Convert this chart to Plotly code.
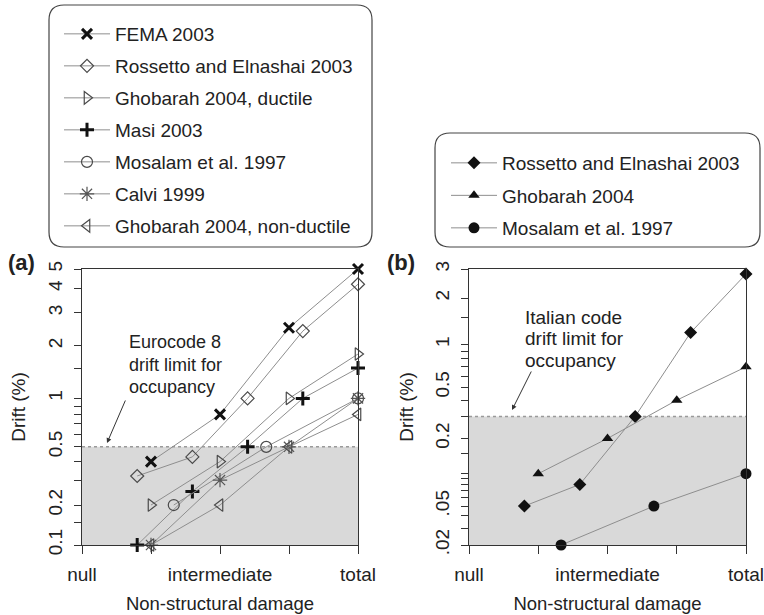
import plotly.graph_objects as go

# ---- data -----------------------------------------------------------------
stage_ticks = [0, 1, 2, 3, 4]
stage_labels = ["null", "", "intermediate", "", "total"]

# (a) drift-damage relations from the literature
fema_x = [1, 2, 3, 4]
fema_drift = [0.4, 0.8, 2.5, 5.0]
rossetto_a_x = [0.8, 1.6, 2.4, 3.2, 4]
rossetto_a_drift = [0.32, 0.43, 1.0, 2.4, 4.2]
ghobarah_duct_x = [1, 2, 3, 4]
ghobarah_duct_drift = [0.2, 0.4, 1.0, 1.8]
masi_x = [0.8, 1.6, 2.4, 3.2, 4]
masi_drift = [0.1, 0.25, 0.5, 1.0, 1.5]
mosalam_a_x = [1.33, 2.67, 4]
mosalam_a_drift = [0.2, 0.5, 1.0]
calvi_x = [1, 2, 3, 4]
calvi_drift = [0.1, 0.3, 0.5, 1.0]
ghobarah_nonduct_x = [1, 2, 3, 4]
ghobarah_nonduct_drift = [0.1, 0.2, 0.5, 0.8]

# (b)
rossetto_b_x = [0.8, 1.6, 2.4, 3.2, 4]
rossetto_b_drift = [0.05, 0.08, 0.3, 1.2, 2.8]
ghobarah_b_x = [1, 2, 3, 4]
ghobarah_b_drift = [0.1, 0.2, 0.4, 0.7]
mosalam_b_x = [1.33, 2.67, 4]
mosalam_b_drift = [0.02, 0.05, 0.1]

eurocode_limit = 0.5
italian_limit = 0.3

ticks_a = [0.1, 0.15, 0.2, 0.3, 0.4, 0.5, 0.6, 0.7, 0.8, 0.9, 1, 1.5, 2, 3, 4, 5]
labels_a = {0.1: "0.1", 0.2: "0.2", 0.5: "0.5", 1: "1", 2: "2", 3: "3", 4: "4", 5: "5"}
ticks_b = [0.02, 0.03, 0.04, 0.05, 0.06, 0.07, 0.08, 0.09, 0.1, 0.15, 0.2, 0.3,
           0.4, 0.5, 0.6, 0.7, 0.8, 0.9, 1, 1.5, 2, 3]
labels_b = {0.02: ".02", 0.05: ".05", 0.2: "0.2", 0.5: "0.5", 1: "1", 2: "2", 3: "3"}

# ---- helpers --------------------------------------------------------------
W, H = 764, 615
POW = 0.12  # power-compressed drift scale


def sc(values):
    return [v ** POW for v in values]


def px(x):
    return x / W


def py(y):
    return 1 - y / H


def rounded_box(x0, y0, x1, y1, r):
    pts = [
        f"M {px(x0 + r)} {py(y0)}",
        f"L {px(x1 - r)} {py(y0)}",
        f"Q {px(x1)} {py(y0)} {px(x1)} {py(y0 + r)}",
        f"L {px(x1)} {py(y1 - r)}",
        f"Q {px(x1)} {py(y1)} {px(x1 - r)} {py(y1)}",
        f"L {px(x0 + r)} {py(y1)}",
        f"Q {px(x0)} {py(y1)} {px(x0)} {py(y1 - r)}",
        f"L {px(x0)} {py(y0 + r)}",
        f"Q {px(x0)} {py(y0)} {px(x0 + r)} {py(y0)}",
        "Z",
    ]
    return " ".join(pts)


FONT = "Liberation Sans, Arial, sans-serif"
TXT = "#222222"
LINE = "#8e8e8e"
DARK = "#111111"
OPEN = "#4a4a4a"

fig = go.Figure()


def add(x, drift, name, symbol, size, color, lw, axis, legend, group):
    fig.add_trace(go.Scatter(
        x=x, y=sc(drift), name=name, mode="lines+markers",
        line=dict(color=LINE, width=1),
        marker=dict(symbol=symbol, size=size, color=color,
                    line=dict(color=color, width=lw)),
        xaxis="x" if axis == 1 else "x2", yaxis="y" if axis == 1 else "y2",
        legend=legend, legendgroup=group, cliponaxis=False,
    ))


add(fema_x, fema_drift, "FEMA 2003", "x-thin", 10, DARK, 3, 1, "legend", "a1")
add(rossetto_a_x, rossetto_a_drift, "Rossetto and Elnashai 2003", "diamond-open", 10, OPEN, 1.2, 1, "legend", "a2")
add(ghobarah_duct_x, ghobarah_duct_drift, "Ghobarah 2004, ductile", "triangle-right-open", 11, OPEN, 1.2, 1, "legend", "a3")
add(masi_x, masi_drift, "Masi 2003", "cross-thin", 10, DARK, 3, 1, "legend", "a4")
add(mosalam_a_x, mosalam_a_drift, "Mosalam et al. 1997", "circle-open", 11, OPEN, 1.2, 1, "legend", "a5")
add(calvi_x, calvi_drift, "Calvi 1999", "asterisk-open", 12, "#555555", 1.2, 1, "legend", "a6")
add(ghobarah_nonduct_x, ghobarah_nonduct_drift, "Ghobarah 2004, non-ductile", "triangle-left-open", 11, OPEN, 1.2, 1, "legend", "a7")

add(rossetto_b_x, rossetto_b_drift, "Rossetto and Elnashai 2003", "diamond", 10, DARK, 0, 2, "legend2", "b1")
add(ghobarah_b_x, ghobarah_b_drift, "Ghobarah 2004", "triangle-up", 10, DARK, 0, 2, "legend2", "b2")
add(mosalam_b_x, mosalam_b_drift, "Mosalam et al. 1997", "circle", 11, DARK, 0, 2, "legend2", "b3")

axis_common = dict(showline=True, mirror=True, linecolor="#333333", linewidth=1,
                   ticks="outside", tickcolor="#333333", tickwidth=1,
                   showgrid=False, zeroline=False, automargin=False,
                   tickfont=dict(family=FONT, size=19, color=TXT))

x_common = dict(axis_common, range=[0, 4], tickvals=stage_ticks, ticktext=stage_labels,
                ticklen=8, ticklabelstandoff=4,
                title=dict(text="Non-structural damage", font=dict(family=FONT, size=18.5, color=TXT),
                           standoff=13))

fig.update_layout(
    width=W, height=H, margin=dict(l=0, r=0, t=0, b=0, autoexpand=False),
    paper_bgcolor="white", plot_bgcolor="white",
    font=dict(family=FONT, color=TXT),
    xaxis=dict(x_common, domain=[px(82), px(358)], anchor="y"),
    yaxis=dict(axis_common, domain=[py(545), py(269)], anchor="x",
               range=[0.1 ** POW, 5 ** POW], tickvals=sc(ticks_a),
               ticktext=[labels_a.get(t, "") for t in ticks_a],
               tickangle=-90, ticklen=7, ticklabelstandoff=4,
               title=dict(text="Drift (%)", font=dict(family=FONT, size=19, color=TXT), standoff=14)),
    xaxis2=dict(x_common, domain=[px(469), px(746)], anchor="y2"),
    yaxis2=dict(axis_common, domain=[py(545), py(269)], anchor="x2",
                range=[0.02 ** POW, 3 ** POW], tickvals=sc(ticks_b),
                ticktext=[labels_b.get(t, "") for t in ticks_b],
                tickangle=-90, ticklen=7, ticklabelstandoff=4,
                title=dict(text="Drift (%)", font=dict(family=FONT, size=19, color=TXT), standoff=13)),
    legend=dict(x=px(59), xanchor="left", y=py(15), yanchor="top",
                font=dict(family=FONT, size=19, color=TXT), itemwidth=46,
                traceorder="grouped", tracegroupgap=4.3, bgcolor="rgba(0,0,0,0)"),
    legend2=dict(x=px(446), xanchor="left", y=py(144), yanchor="top",
                 font=dict(family=FONT, size=19, color=TXT), itemwidth=46,
                 traceorder="grouped", tracegroupgap=4.8, bgcolor="rgba(0,0,0,0)"),
    showlegend=True,
)

shapes = [
    dict(type="rect", xref="x", yref="y", x0=0, x1=4, y0=0.1 ** POW, y1=eurocode_limit ** POW,
         fillcolor="#d9d9d9", line=dict(width=0), layer="below"),
    dict(type="line", xref="x", yref="y", x0=0, x1=4, y0=eurocode_limit ** POW, y1=eurocode_limit ** POW,
         line=dict(color="#9a9a9a", width=1.5, dash="dot"), layer="below"),
    dict(type="rect", xref="x2", yref="y2", x0=0, x1=4, y0=0.02 ** POW, y1=italian_limit ** POW,
         fillcolor="#d9d9d9", line=dict(width=0), layer="below"),
    dict(type="line", xref="x2", yref="y2", x0=0, x1=4, y0=italian_limit ** POW, y1=italian_limit ** POW,
         line=dict(color="#9a9a9a", width=1.5, dash="dot"), layer="below"),
    dict(type="path", xref="paper", yref="paper", path=rounded_box(49, 5, 372, 247, 15),
         line=dict(color="#444444", width=1.2)),
    dict(type="path", xref="paper", yref="paper", path=rounded_box(435, 133, 760, 247, 15),
         line=dict(color="#444444", width=1.2)),
]
fig.update_layout(shapes=shapes)

ann = []


def text(x, y, s, size=19, bold=False, xanchor="left"):
    ann.append(dict(x=px(x), y=py(y), xref="paper", yref="paper", text=f"<b>{s}</b>" if bold else s,
                    showarrow=False, xanchor=xanchor, yanchor="middle",
                    font=dict(family=FONT, size=size, color=TXT)))


text(6, 262, "(a)", size=22, bold=True)
text(385, 262, "(b)", size=22, bold=True)
for i, line in enumerate(["Eurocode 8", "drift limit for", "occupancy"]):
    text(127, 342 + 22.5 * i, line, size=18)
for i, line in enumerate(["Italian code", "drift limit for", "occupancy"]):
    text(523, 317 + 21.7 * i, line, size=19)

for tip, tail in [((107, 443), (126, 399)), ((512, 410), (532, 370))]:
    ann.append(dict(x=px(tip[0]), y=py(tip[1]), xref="paper", yref="paper", text="",
                    showarrow=True, arrowhead=2, arrowsize=1, arrowwidth=1, arrowcolor="#333333",
                    ax=tail[0] - tip[0], ay=tail[1] - tip[1]))
fig.update_layout(annotations=ann)

fig.write_html("out.html")
